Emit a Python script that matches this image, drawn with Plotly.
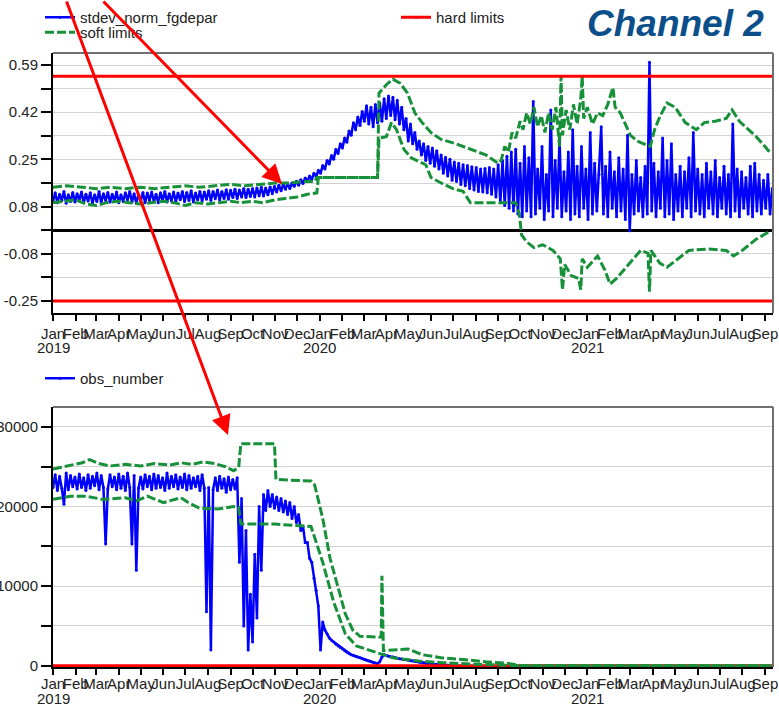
import plotly.graph_objects as go
import pandas as pd

FONT = "Liberation Sans, Arial, Helvetica, sans-serif"
BLUE = "#0000ff"
GREEN = "#17903a"
RED = "#ff0000"
DASH = "9px,3px"

# ---------------- data ----------------
month_labels = ["Jan", "Feb", "Mar", "Apr", "May", "Jun", "Jul", "Aug", "Sep", "Oct", "Nov", "Dec"] * 2 + \
               ["Jan", "Feb", "Mar", "Apr", "May", "Jun", "Jul", "Aug", "Sep"]
month_ticks = pd.date_range("2019-01-01", periods=len(month_labels), freq="MS")
year_labels = ["2019", "2020", "2021"]
year_dates = ["2019-01-01", "2020-01-01", "2021-01-01"]

# stdev_norm_fgdepar, one value every 3 days from 2019-01-01
stdev_vals = [
    0.105, 0.135, 0.100, 0.130, 0.108, 0.140, 0.098, 0.128, 0.104, 0.136,
    0.102, 0.132, 0.110, 0.138, 0.100, 0.130, 0.106, 0.135, 0.098, 0.128,
    0.104, 0.140, 0.100, 0.132, 0.108, 0.136, 0.102, 0.130, 0.106, 0.138,
    0.100, 0.128, 0.104, 0.135, 0.110, 0.140, 0.102, 0.132, 0.098, 0.130,
    0.106, 0.136, 0.100, 0.134, 0.108, 0.138, 0.104, 0.130, 0.100, 0.135,
    0.108, 0.140, 0.102, 0.132, 0.106, 0.138, 0.104, 0.134, 0.110, 0.140,
    0.104, 0.136, 0.108, 0.142, 0.102, 0.134, 0.110, 0.140, 0.106, 0.138,
    0.112, 0.142, 0.108, 0.140, 0.114, 0.145, 0.110, 0.140, 0.115, 0.146,
    0.112, 0.144, 0.118, 0.148, 0.115, 0.145, 0.120, 0.150, 0.118, 0.148,
    0.122, 0.150, 0.120, 0.152, 0.125, 0.155, 0.124, 0.152, 0.128, 0.156,
    0.132, 0.158, 0.138, 0.162, 0.142, 0.165, 0.148, 0.168, 0.150, 0.170,
    0.158, 0.176, 0.162, 0.182, 0.168, 0.188, 0.175, 0.195, 0.182, 0.205,
    0.192, 0.215, 0.205, 0.232, 0.220, 0.250, 0.238, 0.268, 0.255, 0.290,
    0.275, 0.310, 0.295, 0.330, 0.315, 0.355, 0.340, 0.385, 0.360, 0.405,
    0.375, 0.425, 0.390, 0.445, 0.380, 0.440, 0.370, 0.450, 0.385, 0.455,
    0.390, 0.470, 0.400, 0.480, 0.410, 0.475, 0.395, 0.465, 0.380, 0.440,
    0.360, 0.400, 0.320, 0.380, 0.310, 0.350, 0.290, 0.320, 0.270, 0.310,
    0.250, 0.300, 0.240, 0.295, 0.230, 0.285, 0.220, 0.270, 0.205, 0.262,
    0.195, 0.255, 0.180, 0.245, 0.175, 0.240, 0.165, 0.235, 0.160, 0.232,
    0.150, 0.228, 0.145, 0.225, 0.140, 0.220, 0.138, 0.222, 0.135, 0.225,
    0.130, 0.220, 0.120, 0.235, 0.100, 0.250, 0.090, 0.265, 0.080, 0.280,
    0.070, 0.290, 0.060, 0.240, 0.050, 0.300, 0.070, 0.260, 0.050, 0.460,
    0.060, 0.220, 0.080, 0.300, 0.040, 0.200, 0.070, 0.430, 0.050, 0.250,
    0.080, 0.330, 0.050, 0.210, 0.070, 0.280, 0.040, 0.360, 0.060, 0.230,
    0.050, 0.300, 0.080, 0.220, 0.040, 0.350, 0.060, 0.240, 0.070, 0.200,
    0.370, 0.060, 0.230, 0.050, 0.280, 0.080, 0.210, 0.050, 0.260, 0.070,
    0.220, 0.040, 0.340, 0.000, 0.200, 0.060, 0.250, 0.070, 0.190, 0.050,
    0.230, 0.060, 0.600, 0.070, 0.240, 0.050, 0.210, 0.080, 0.330, 0.050,
    0.250, 0.060, 0.310, 0.040, 0.200, 0.070, 0.230, 0.050, 0.210, 0.080,
    0.260, 0.050, 0.350, 0.070, 0.220, 0.060, 0.200, 0.050, 0.240, 0.080,
    0.210, 0.060, 0.250, 0.050, 0.190, 0.080, 0.230, 0.060, 0.200, 0.050,
    0.380, 0.070, 0.220, 0.050, 0.210, 0.080, 0.190, 0.060, 0.230, 0.050,
    0.240, 0.070, 0.200, 0.060, 0.180, 0.080, 0.200, 0.060, 0.150,
]
stdev_dates = pd.date_range("2019-01-01", periods=len(stdev_vals), freq="3D")

soft_hi_dates = [
    "2019-01-01", "2019-01-20", "2019-02-10", "2019-03-01", "2019-03-20", "2019-04-10", "2019-05-01",
    "2019-05-20", "2019-06-10", "2019-07-01", "2019-07-20", "2019-08-10", "2019-09-01", "2019-09-20",
    "2019-10-10", "2019-11-01", "2019-11-20", "2019-12-10", "2019-12-25", "2019-12-28", "2020-03-20",
    "2020-03-22", "2020-04-01", "2020-04-10", "2020-04-20", "2020-04-30", "2020-05-10", "2020-05-20",
    "2020-06-01", "2020-06-15", "2020-07-05", "2020-07-25", "2020-08-15", "2020-09-01", "2020-09-05",
    "2020-09-10", "2020-09-15", "2020-09-20", "2020-09-25", "2020-10-01", "2020-10-05", "2020-10-10",
    "2020-10-15", "2020-10-20", "2020-10-25", "2020-10-30", "2020-11-04", "2020-11-09", "2020-11-14",
    "2020-11-19", "2020-11-24", "2020-11-26", "2020-11-28", "2020-12-03", "2020-12-08", "2020-12-13",
    "2020-12-18", "2020-12-23", "2020-12-25", "2020-12-27", "2021-01-01", "2021-01-08", "2021-01-15",
    "2021-01-22", "2021-01-29", "2021-02-05", "2021-02-08", "2021-02-15", "2021-02-22", "2021-03-01",
    "2021-03-10", "2021-03-20", "2021-03-28", "2021-04-03", "2021-04-10", "2021-04-20", "2021-05-01",
    "2021-05-15", "2021-05-30", "2021-06-10", "2021-06-25", "2021-07-10", "2021-07-18", "2021-07-28",
    "2021-08-10", "2021-08-20", "2021-09-01", "2021-09-09",
]
soft_hi_vals = [
    0.155, 0.16, 0.155, 0.15, 0.155, 0.15, 0.155,
    0.15, 0.155, 0.16, 0.155, 0.16, 0.165, 0.16,
    0.165, 0.17, 0.17, 0.175, 0.175, 0.19, 0.19,
    0.49, 0.52, 0.54, 0.525, 0.49, 0.42, 0.385,
    0.35, 0.325, 0.31, 0.29, 0.27, 0.24, 0.25,
    0.30, 0.28, 0.35, 0.33, 0.39, 0.36, 0.42,
    0.38, 0.44, 0.37, 0.41, 0.35, 0.42, 0.36,
    0.44, 0.30, 0.55, 0.34, 0.43, 0.36, 0.45,
    0.38, 0.47, 0.55, 0.40, 0.44, 0.38, 0.42,
    0.41, 0.45, 0.51, 0.44, 0.42, 0.38, 0.34,
    0.32, 0.31, 0.30, 0.36, 0.405, 0.455, 0.44,
    0.385, 0.36, 0.385, 0.39, 0.40, 0.43, 0.39,
    0.36, 0.335, 0.30, 0.275,
]

soft_lo_dates = [
    "2019-01-01", "2019-01-15", "2019-02-01", "2019-02-15", "2019-03-01", "2019-03-15", "2019-04-01",
    "2019-04-15", "2019-05-01", "2019-05-15", "2019-06-01", "2019-06-15", "2019-07-01", "2019-07-15",
    "2019-08-01", "2019-08-15", "2019-09-01", "2019-09-15", "2019-10-01", "2019-10-15", "2019-11-01",
    "2019-11-15", "2019-12-01", "2019-12-15", "2019-12-28", "2019-12-30", "2020-03-20", "2020-03-22",
    "2020-04-01", "2020-04-08", "2020-04-15", "2020-04-25", "2020-05-05", "2020-05-25", "2020-06-01",
    "2020-06-15", "2020-07-01", "2020-07-15", "2020-07-25", "2020-09-25", "2020-09-30", "2020-10-03",
    "2020-10-10", "2020-10-20", "2020-11-01", "2020-11-15", "2020-11-25", "2020-11-28", "2020-12-01",
    "2020-12-10", "2020-12-20", "2020-12-23", "2020-12-25", "2021-01-01", "2021-01-15", "2021-01-25",
    "2021-02-01", "2021-02-10", "2021-02-20", "2021-03-01", "2021-03-15", "2021-03-25", "2021-03-27",
    "2021-03-29", "2021-04-10", "2021-04-20", "2021-05-05", "2021-05-20", "2021-06-15", "2021-07-10",
    "2021-07-20", "2021-08-01", "2021-08-20", "2021-09-09",
]
soft_lo_vals = [
    0.10, 0.105, 0.11, 0.095, 0.09, 0.10, 0.105,
    0.10, 0.095, 0.10, 0.105, 0.10, 0.09, 0.10,
    0.095, 0.10, 0.105, 0.10, 0.105, 0.10, 0.11,
    0.115, 0.12, 0.13, 0.135, 0.19, 0.19, 0.33,
    0.335, 0.385, 0.36, 0.29, 0.26, 0.235, 0.19,
    0.17, 0.15, 0.14, 0.10, 0.10, 0.06, -0.015,
    -0.04, -0.06, -0.05, -0.07, -0.10, -0.21, -0.12,
    -0.16, -0.17, -0.21, -0.10, -0.13, -0.09, -0.14,
    -0.19, -0.17, -0.14, -0.115, -0.07, -0.08, -0.217,
    -0.07, -0.115, -0.13, -0.10, -0.07, -0.065, -0.07,
    -0.09, -0.07, -0.03, 0.0,
]

hard_dates = ["2019-01-01", "2021-09-12"]
hard_hi_top = [0.55, 0.55]
hard_lo_top = [-0.25, -0.25]
hard_obs = [0, 0]

# obs_number, one value every 3 days from 2019-01-01
obs_vals = [
    22400, 24000, 22000, 23800, 22300, 20300, 24200, 22100, 23900, 22500,
    23700, 22200, 24100, 22400, 23600, 22000, 24000, 22300, 23800, 22600,
    24200, 22100, 23900, 22400, 15300, 22200, 24000, 22500, 23700, 22100,
    24100, 22300, 23800, 22000, 24200, 22400, 15300, 23900, 12000, 22300,
    23700, 22200, 24000, 22500, 23800, 22100, 24100, 22300, 23900, 22400,
    23600, 22000, 24200, 22300, 23800, 22500, 24000, 22200, 23700, 22400,
    24100, 22100, 23900, 22300, 23600, 22500, 23800, 22000, 24000, 22300,
    6800, 22400, 2000, 22100, 23600, 22000, 23800, 22300, 23500, 21800,
    23700, 22100, 23400, 22200, 23600, 13000, 21000, 5000, 17000, 2000,
    9000, 3000, 14000, 6000, 20000, 12000, 21500, 19500, 22000, 20000,
    21500, 19800, 21200, 19500, 21000, 19300, 20700, 19000, 20500, 18500,
    20000, 18000, 19000, 17000, 17500, 15500, 15500, 13500, 13000, 11000,
    9500, 7500, 2000, 5500, 4500, 4000, 3500, 3200, 3000, 2700,
    2500, 2300, 2100, 1900, 1700, 1500, 1400, 1300, 1200, 1100,
    1000, 900, 800, 700, 600, 500, 400, 350, 300, 500,
    1100, 1400, 1300, 1200, 1150, 1100, 1000, 950, 900, 850,
    800, 750, 700, 650, 600, 550, 500, 450, 400, 350,
    300, 280, 250, 220, 200, 180, 150, 120, 100, 80,
    60, 40, 20, 0, 0, 0,
]
obs_dates = pd.date_range("2019-01-01", periods=len(obs_vals), freq="3D")

obs_hi_dates = [
    "2019-01-01", "2019-01-20", "2019-02-10", "2019-02-20", "2019-03-05", "2019-03-20", "2019-04-10",
    "2019-05-01", "2019-05-20", "2019-06-10", "2019-06-25", "2019-07-10", "2019-07-25", "2019-08-10",
    "2019-08-25", "2019-09-05", "2019-09-12", "2019-09-15", "2019-10-31", "2019-11-02", "2019-12-20",
    "2019-12-25", "2020-01-05", "2020-01-15", "2020-01-25", "2020-02-05", "2020-02-15", "2020-02-25",
    "2020-03-25", "2020-03-26", "2020-03-28", "2020-04-10", "2020-05-01", "2020-05-20", "2020-06-15",
    "2020-07-15", "2020-08-15", "2020-09-15", "2020-10-05", "2021-09-12",
]
obs_hi_vals = [
    24700, 25100, 25500, 25900, 25400, 25100, 25300,
    25100, 25400, 25200, 25500, 25300, 25600, 25400,
    25000, 24500, 24900, 27900, 27900, 23400, 23200,
    22700, 18500, 13500, 10000, 6500, 4500, 3700,
    3600, 11300, 1900, 2000, 2100, 1400, 1000,
    800, 500, 300, 0, 0,
]

obs_lo_dates = [
    "2019-01-01", "2019-01-25", "2019-02-15", "2019-03-10", "2019-04-10", "2019-04-25", "2019-05-10",
    "2019-06-01", "2019-06-25", "2019-07-05", "2019-07-20", "2019-08-15", "2019-09-05", "2019-09-12",
    "2019-09-15", "2019-10-31", "2019-12-20", "2020-01-05", "2020-01-20", "2020-02-05", "2020-02-20",
    "2020-03-25", "2020-04-10", "2020-05-15", "2020-06-15", "2020-08-01", "2020-09-15", "2020-10-05",
    "2021-09-12",
]
obs_lo_vals = [
    20900, 21300, 21300, 20900, 21100, 20700, 21300,
    20500, 21100, 20500, 19800, 19700, 20000, 19900,
    17800, 17800, 17500, 13000, 8000, 4000, 2500,
    1500, 1000, 600, 400, 200, 100, 0,
    0,
]

# ---------------- figure ----------------
fig = go.Figure()

fig.add_trace(go.Scatter(x=stdev_dates, y=stdev_vals, name="stdev_norm_fgdepar", mode="lines+markers",
                         line=dict(color=BLUE, width=2.5), marker=dict(color=BLUE, size=3),
                         xaxis="x", yaxis="y", legend="legend"))
fig.add_trace(go.Scatter(x=soft_hi_dates, y=soft_hi_vals, name="soft limits", mode="lines",
                         line=dict(color=GREEN, width=3, dash=DASH),
                         xaxis="x", yaxis="y", legend="legend3"))
fig.add_trace(go.Scatter(x=soft_lo_dates, y=soft_lo_vals, name="soft limits", mode="lines",
                         line=dict(color=GREEN, width=3, dash=DASH), showlegend=False,
                         xaxis="x", yaxis="y"))
fig.add_trace(go.Scatter(x=hard_dates, y=hard_hi_top, name="hard limits", mode="lines+markers",
                         line=dict(color=RED, width=3), marker=dict(color=RED, size=3),
                         xaxis="x", yaxis="y", legend="legend2"))
fig.add_trace(go.Scatter(x=hard_dates, y=hard_lo_top, name="hard limits", mode="lines",
                         line=dict(color=RED, width=3), showlegend=False,
                         xaxis="x", yaxis="y"))

fig.add_trace(go.Scatter(x=obs_dates, y=obs_vals, name="obs_number", mode="lines+markers",
                         line=dict(color=BLUE, width=2.5), marker=dict(color=BLUE, size=3),
                         xaxis="x2", yaxis="y2", legend="legend4"))
fig.add_trace(go.Scatter(x=hard_dates, y=hard_obs, mode="lines", showlegend=False,
                         line=dict(color=RED, width=3), xaxis="x2", yaxis="y2"))
fig.add_trace(go.Scatter(x=obs_hi_dates, y=obs_hi_vals, mode="lines", showlegend=False,
                         line=dict(color=GREEN, width=3, dash=DASH), xaxis="x2", yaxis="y2"))
fig.add_trace(go.Scatter(x=obs_lo_dates, y=obs_lo_vals, mode="lines", showlegend=False,
                         line=dict(color=GREEN, width=3, dash=DASH), xaxis="x2", yaxis="y2"))

W, H = 779, 706
ML, MR, MT, MB = 53, 6, 53, 39
PH = H - MT - MB
PW = W - ML - MR


def py(pix):
    return (H - MB - pix) / PH


def px(pix):
    return (pix - ML) / PW


xrange_ = ["2019-01-01", "2021-09-12"]
xcommon = dict(range=xrange_, type="date", tickmode="array", tickvals=month_ticks, ticktext=month_labels,
               tickangle=0, ticks="outside", ticklen=6, tickwidth=2, tickcolor="black",
               showline=True, linecolor="black", linewidth=2, showgrid=False, zeroline=False,
               tickfont=dict(family=FONT, size=15, color="#222"))

top_ticks = [-0.25, -0.166, -0.082, 0.002, 0.086, 0.17, 0.254, 0.338, 0.422, 0.506, 0.59]
top_text = ["-0.25", "", "-0.08", "", "0.08", "", "0.25", "", "0.42", "", "0.59"]
bot_ticks = [0, 5000, 10000, 15000, 20000, 25000, 30000]
bot_text = ["0", "", "10000", "", "20000", "", "30000"]

ycommon = dict(ticks="outside", ticklen=10, tickwidth=2, tickcolor="black", showline=True,
               linecolor="black", linewidth=2, showgrid=True, gridcolor="#d3d3d3", gridwidth=1.2,
               tickmode="array", tickfont=dict(family=FONT, size=15, color="#222"))

legfont = dict(family=FONT, size=15, color="#222")
fig.update_layout(
    width=W, height=H, autosize=False,
    margin=dict(l=ML, r=MR, t=MT, b=MB, autoexpand=False),
    paper_bgcolor="white", plot_bgcolor="white",
    font=dict(family=FONT, size=15, color="#222"),
    xaxis=dict(domain=[0, 1], anchor="y", **xcommon),
    yaxis=dict(domain=[py(313), 1], anchor="x", range=[-0.293, 0.633], tickvals=top_ticks,
               ticktext=top_text, zeroline=True, zerolinecolor="black", zerolinewidth=2.5, **ycommon),
    xaxis2=dict(domain=[0, 1], anchor="y2", ticklabelstandoff=-4, **xcommon),
    yaxis2=dict(domain=[0, py(407)], anchor="x2", range=[-150, 32500], tickvals=bot_ticks,
                ticktext=bot_text, zeroline=False, **ycommon),
    legend=dict(x=px(40), y=py(1), xanchor="left", yanchor="top", bgcolor="rgba(0,0,0,0)",
                font=legfont, itemwidth=30),
    legend2=dict(x=px(396), y=py(1), xanchor="left", yanchor="top", bgcolor="rgba(0,0,0,0)",
                 font=legfont, itemwidth=30),
    legend3=dict(x=px(40), y=py(16), xanchor="left", yanchor="top", bgcolor="rgba(0,0,0,0)",
                 font=legfont, itemwidth=30),
    legend4=dict(x=px(40), y=py(362), xanchor="left", yanchor="top", bgcolor="rgba(0,0,0,0)",
                 font=legfont, itemwidth=30),
    showlegend=True,
)

# grey frame on top / right of each panel
for xr, yr in (("x domain", "y domain"), ("x2 domain", "y2 domain")):
    fig.add_shape(type="line", xref=xr, yref=yr, x0=0, x1=1, y0=1, y1=1,
                  line=dict(color="#707070", width=2), layer="above")
    fig.add_shape(type="line", xref=xr, yref=yr, x0=1, x1=1, y0=0, y1=1,
                  line=dict(color="#707070", width=2), layer="above")

# year labels under the January ticks
for yd, yl in zip(year_dates, year_labels):
    fig.add_annotation(x=yd, y=py(347), xref="x", yref="paper", text=yl, showarrow=False,
                       font=dict(family=FONT, size=15, color="#222"), xanchor="center", yanchor="middle")
    fig.add_annotation(x=yd, y=py(698), xref="x2", yref="paper", text=yl, showarrow=False,
                       font=dict(family=FONT, size=15, color="#222"), xanchor="center", yanchor="middle")

# title
fig.add_annotation(x=px(766), y=py(24), xref="paper", yref="paper", text="<b><i>Channel 2</i></b>",
                   showarrow=False, xanchor="right", yanchor="middle",
                   font=dict(family=FONT, size=37, color="#0b4f8a"))

# red arrows
fig.add_annotation(x=px(282), y=py(184), xref="paper", yref="paper", text="",
                   showarrow=True, ax=-180, ay=-204, arrowhead=2, arrowsize=1.3, arrowwidth=3,
                   arrowcolor=RED)
fig.add_annotation(x=px(228), y=py(435), xref="paper", yref="paper", text="",
                   showarrow=True, ax=-162, ay=-455, arrowhead=2, arrowsize=1.3, arrowwidth=3,
                   arrowcolor=RED)

fig.write_html("out.html")
